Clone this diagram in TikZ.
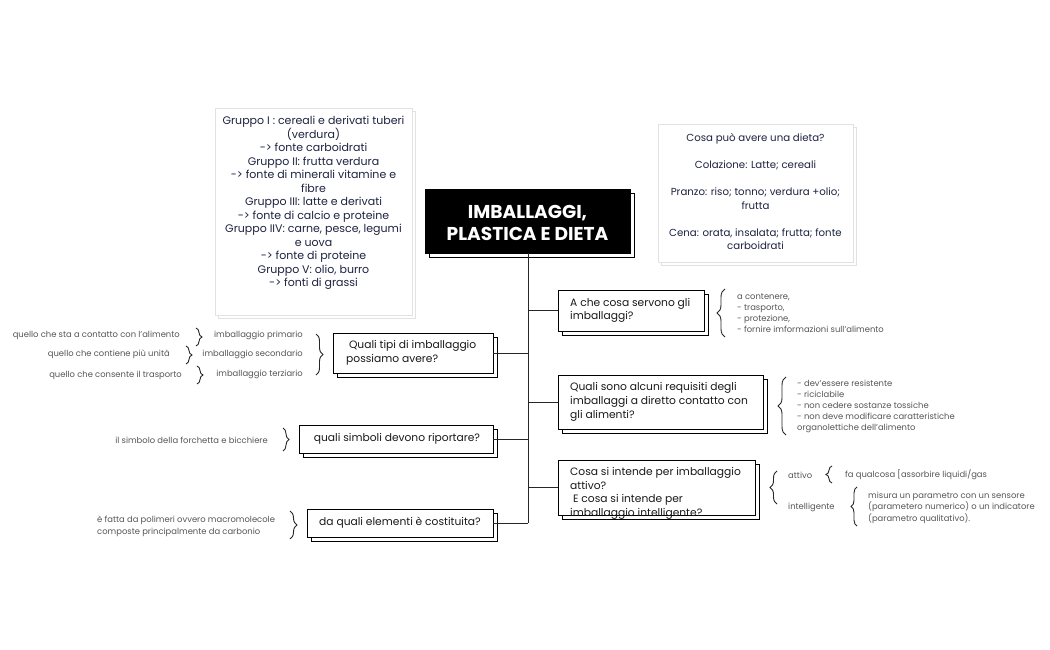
\documentclass[tikz,border=0pt]{standalone}
\usepackage{fontspec}
\setmainfont{Poppins}
\usetikzlibrary{decorations.pathreplacing,shadows}
\definecolor{navy}{HTML}{1E2340}
\definecolor{sidegray}{HTML}{555555}
\definecolor{notegray}{HTML}{E2E2E2}
\begin{document}
\begin{tikzpicture}[x=1pt,y=-1pt,
  qbox/.style={draw=black, fill=white, line width=0.9pt, inner sep=0pt,
    copy shadow={shadow xshift=4pt, shadow yshift=-4pt}},
  notebox/.style={draw=notegray, fill=white, line width=0.9pt, inner sep=0pt,
    copy shadow={shadow xshift=3pt, shadow yshift=-3pt}},
  qtext/.style={font=\fontsize{10.7}{13.7}\selectfont, text=black!90, inner sep=0pt},
  notetext/.style={font=\fontsize{11}{13.5}\selectfont, text=navy, align=center, inner sep=0pt},
  side/.style={font=\fontsize{8.4}{11}\selectfont, text=sidegray, inner sep=0pt},
  conn/.style={line width=1pt, draw=black!85},
  brc/.style={decorate, decoration={brace, amplitude=#1}, line width=0.9pt, draw=black!85},
  brc/.default=7pt
]
\useasboundingbox (0,0) rectangle (1050,650);

% notes
\node[notebox, minimum width=197pt, minimum height=207pt] (n1) at (313.5,211.5) {};
\node[notetext] (n1t) at (313.5,203) {Gruppo I : cereali e derivati tuberi\\(verdura)\\-> fonte carboidrati\\Gruppo II: frutta verdura\\-> fonte di minerali vitamine e\\fibre\\Gruppo III: latte e derivati\\-> fonte di calcio e proteine\\Gruppo IIV: carne, pesce, legumi\\e uova\\-> fonte di proteine\\Gruppo V: olio, burro\\-> fonti di grassi};

\node[notebox, minimum width=195pt, minimum height=138pt] (n2) at (755.5,193) {};
\node[notetext, font=\fontsize{10.2}{13.5}\selectfont] (n2t) at (755.5,192) {Cosa può avere una dieta?\\[13.5pt]Colazione: Latte; cereali\\[13.5pt]Pranzo: riso; tonno; verdura +olio;\\frutta\\[13.5pt]Cena: orata, insalata; frutta; fonte\\carboidrati};

% central
\node[draw=black, fill=black, line width=0.9pt, minimum width=205pt, minimum height=64pt,
  copy shadow={shadow xshift=4pt, shadow yshift=-4pt, fill=white, draw=black},
  inner sep=0pt] (c) at (527.5,221) {};
\node[font=\fontsize{18.6}{22}\selectfont\bfseries, text=white, align=center, inner sep=0pt] (ct) at (527.5,223) {IMBALLAGGI,\\PLASTICA E DIETA};

% right boxes
\node[qbox, minimum width=146pt, minimum height=41pt] (r1) at (631,310.5) {};
\node[qtext, anchor=west, align=left] (r1t) at (570,310.5) {A che cosa servono gli\\imballaggi?};

\node[qbox, minimum width=205pt, minimum height=54pt] (r2) at (660.5,402) {};
\node[qtext, anchor=west, align=left] (r2t) at (570,402) {Quali sono alcuni requisiti degli\\imballaggi a diretto contatto con\\gli alimenti?};

\node[qbox, minimum width=197pt, minimum height=55pt] (r3) at (656.5,487.5) {};
\node[qtext, anchor=west, align=left] (r3t) at (570,493.5) {Cosa si intende per imballaggio\\attivo?\\\ E cosa si intende per\\imballaggio intelligente?};

% left boxes
\node[qbox, minimum width=160pt, minimum height=40pt] (l1) at (413,353) {};
\node[qtext, anchor=west, align=left] (l1t) at (346,353) {\ Quali tipi di imballaggio\\possiamo avere?};

\node[qbox, minimum width=194pt, minimum height=28pt] (l2) at (396,439) {};
\node[qtext] (l2t) at (397,439) {quali simboli devono riportare?};

\node[qbox, minimum width=186pt, minimum height=28pt] (l3) at (400,523) {};
\node[qtext] (l3t) at (400,523) {da quali elementi è costituita?};

% connectors
\coordinate (sp) at (528,523);
\draw[conn] (c.south -| sp) -- (sp);
\draw[conn] (r1.west) -- (r1.west -| sp);
\draw[conn] (r2.west) -- (r2.west -| sp);
\draw[conn] (r3.west) -- (r3.west -| sp);
\draw[conn] (l1.east) -- (l1.east -| sp);
\draw[conn] (l2.east) -- (l2.east -| sp);
\draw[conn] (l3.east) -- (l3.east -| sp);

% right side details
\draw[brc=8pt] (725,337) -- (725,289);
\node[side, anchor=west, align=left] (r1d) at (737,313.5) {a contenere,\\- trasporto,\\- protezione,\\- fornire imformazioni sull'alimento};

\draw[brc=8pt] (786,435) -- (786,377);
\node[side, anchor=west, align=left] (r2d) at (797,406) {- dev'essere resistente\\- riciclabile\\- non cedere sostanze tossiche\\- non deve modificare caratteristiche\\organolettiche dell'alimento};

\draw[brc=7pt] (777,504) -- (777,471);
\node[side, anchor=west] (att) at (788,475) {attivo};
\draw[brc=6pt] (832,483) -- (832,466);
\node[side, anchor=west] (attd) at (845,475) {fa qualcosa [assorbire liquidi/gas};
\node[side, anchor=west] (int) at (788,507) {intelligente};
\draw[brc=6pt] (857,526) -- (857,487);
\node[side, anchor=west, align=left, font=\fontsize{8.4}{11.5}\selectfont] (intd) at (868,507.5) {misura un parametro con un sensore\\(parametero numerico) o un indicatore\\(parametro qualitativo).};

% left side details
\draw[brc=7pt] (316,334) -- (316,375);
\node[side, anchor=east] (p1) at (303,335) {imballaggio primario};
\node[side, anchor=east] (p2) at (303,354) {imballaggio secondario};
\node[side, anchor=east] (p3) at (303,374) {imballaggio terziario};
\draw[brc=6pt] (196,328) -- (196,346);
\draw[brc=6pt] (186,346) -- (186,364);
\draw[brc=6pt] (197,366) -- (197,384);
\node[side, anchor=east] (q1) at (180,335) {quello che sta a contatto con l'alimento};
\node[side, anchor=east] (q2) at (170,354) {quello che contiene più unità};
\node[side, anchor=east] (q3) at (182,375) {quello che consente il trasporto};

\draw[brc=6pt] (283,428) -- (283,451);
\node[side, anchor=east] (sd) at (268,440) {il simbolo della forchetta e bicchiere};

\draw[brc=7pt] (290,511) -- (290,539);
\node[side, anchor=west, align=left, font=\fontsize{8.4}{12}\selectfont] (cd) at (97,526) {è fatta da polimeri ovvero macromolecole\\composte principalmente da carbonio};
\end{tikzpicture}
\end{document}
